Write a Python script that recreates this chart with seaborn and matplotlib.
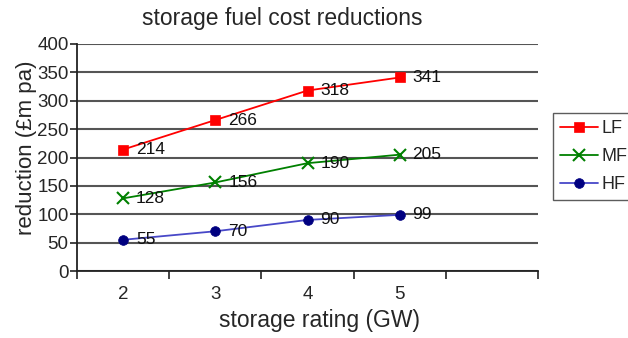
import matplotlib
matplotlib.use("Agg")
import matplotlib.pyplot as plt
import seaborn as sns
import pandas as pd
import numpy as np

# data
ratings = [2, 3, 4, 5]
lf = [214, 266, 318, 341]
mf = [128, 156, 190, 205]
hf = [55, 70, 90, 99]

series = ["LF", "MF", "HF"]
df = pd.DataFrame({
    "rating": ratings * 3,
    "reduction": lf + mf + hf,
    "case": [s for s in series for _ in ratings],
})

sns.set_theme(style="white")
plt.rcParams["font.family"] = ["Liberation Sans", "DejaVu Sans"]

line_cols = {"LF": "#ff0000", "MF": "#008000", "HF": "#4848c8"}
mark_cols = {"LF": "#ff0000", "MF": "#008000", "HF": "#000080"}
markers = {"LF": "s", "MF": "x", "HF": "o"}

W, H = 628, 338
fig = plt.figure(figsize=(W / 100, H / 100), dpi=100)
# plot area in pixels: x 77..538, y 44..271
ax = fig.add_axes([77 / W, 1 - 271 / H, (538 - 77) / W, (271 - 44) / H])

for s in series:
    d = df[df["case"] == s]
    sns.lineplot(data=d, x="rating", y="reduction", ax=ax, color=line_cols[s],
                 marker=markers[s], markersize=7 if s != "MF" else 8,
                 markerfacecolor=mark_cols[s], markeredgecolor=mark_cols[s],
                 markeredgewidth=1.5 if s == "MF" else 0.5,
                 linewidth=1.3, label=s, zorder=3)
    for x, y in zip(d["rating"], d["reduction"]):
        ax.text(x + 0.14, y, str(y), fontsize=12.5, va="center", ha="left",
                color="#111111", zorder=4)

ax.set_xlim(1.5, 6.5)
ax.set_ylim(0, 400)
ax.set_yticks(np.arange(0, 401, 50))
ax.set_xticks(ratings)
ax.set_xticks(np.arange(1.5, 6.6, 1), minor=True)
ax.tick_params(axis="x", which="major", length=0, pad=11, labelsize=13.5)
ax.tick_params(axis="x", which="minor", length=6, width=1.2, color="#222222",
               direction="out", bottom=True)
ax.tick_params(axis="y", length=5, width=1.2, color="#222222", direction="out",
               left=True, labelsize=13.5, pad=1)

ax.grid(axis="y", color="#555555", linewidth=1.5, zorder=0)
ax.set_axisbelow(True)
for side in ["top", "right"]:
    ax.spines[side].set_visible(False)
for side in ["left", "bottom"]:
    ax.spines[side].set_color("#222222")
    ax.spines[side].set_linewidth(1.3)

ax.set_xlabel("")
ax.set_ylabel("")
fig.text(282 / W, 1 - 18 / H, "storage fuel cost reductions", fontsize=16.5,
         ha="center", va="center")
fig.text(319 / W, 1 - 321 / H, "storage rating (GW)", fontsize=16.5,
         ha="center", va="center")
fig.text(27 / W, 1 - 148 / H, "reduction (£m pa)", fontsize=16,
         ha="center", va="center", rotation=90)

handles, labels = ax.get_legend_handles_labels()
if ax.get_legend():
    ax.get_legend().remove()
leg = fig.legend(handles, labels, loc="upper left", bbox_to_anchor=(553 / W, 1 - 113 / H),
                 fontsize=13, frameon=True, fancybox=False, handlelength=2.1,
                 handletextpad=0.2, borderpad=0.4, labelspacing=0.6, borderaxespad=0)
leg.get_frame().set_edgecolor("#333333")
leg.get_frame().set_linewidth(1.0)

fig.savefig("out.png", dpi=100)
